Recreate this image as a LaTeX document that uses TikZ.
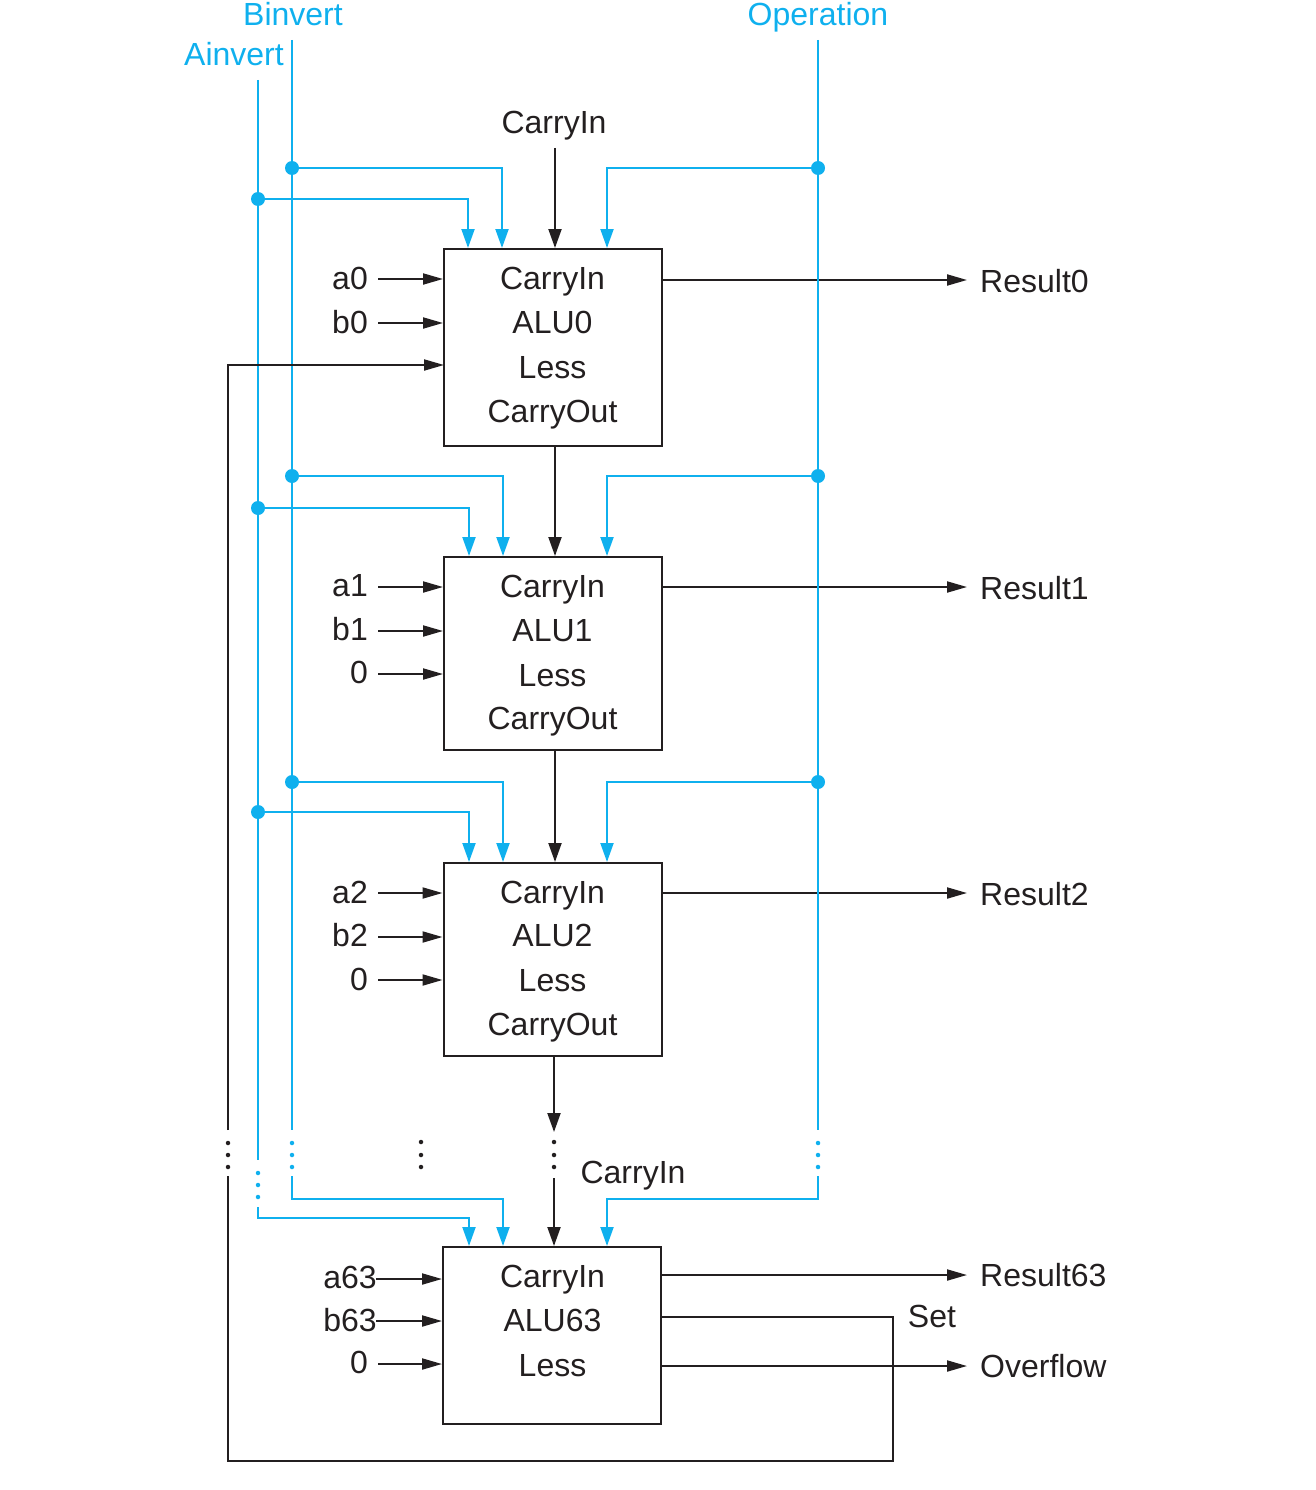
\documentclass[tikz,border=0pt]{standalone}
\usepackage{fontspec}
\setmainfont{Liberation Sans}
\usetikzlibrary{arrows.meta,calc}
\definecolor{ctrlblue}{HTML}{0FB0EE}
\definecolor{inkdark}{HTML}{231F20}
\tikzset{
  x=1pt,y=-1pt,
  wire/.style={inkdark,line width=2pt},
  ctrl/.style={ctrlblue,line width=2pt},
  downtip/.style={-{Triangle[length=19pt,width=13pt]}},
  sidetip/.style={-{Triangle[length=20pt,width=11pt]}},
  txt/.style={inner sep=0pt,text height=23pt,text depth=0pt,font=\fontsize{32}{36}\selectfont,text=inkdark},
  ctrltxt/.style={txt,text=ctrlblue},
  alubox/.style={draw=inkdark,line width=2pt,fill=none,inner sep=0pt,minimum width=218pt},
  junction/.style={circle,fill=ctrlblue,inner sep=0pt,minimum size=14pt},
  dot/.style={circle,fill=#1,inner sep=0pt,minimum size=4.5pt},
}
\begin{document}
\begin{tikzpicture}
\useasboundingbox (0,0) rectangle (1316,1490);

% control signal titles and the top carry input
\node[ctrltxt] (binvert) at (293,14) {Binvert};
\node[ctrltxt] (ainvert) at (234,54) {Ainvert};
\node[ctrltxt] (operation) at (818,14) {Operation};
\node[txt] (carrytop) at (554,122) {CarryIn};
\coordinate (bstart) at (292,40);
\coordinate (astart) at (258,80);
\coordinate (opstart) at (818,40);
\coordinate (cstart) at (555,148);

% ALU blocks
\node[alubox,minimum height=197pt] (alu0) at (553,347.5) {};
\node[alubox,minimum height=193pt] (alu1) at (553,653.5) {};
\node[alubox,minimum height=193pt] (alu2) at (552.5,959.5) {};
\node[alubox,minimum height=177pt] (alu63) at (552,1335.5) {};

% block port labels
\foreach \nm/\y/\txtval in {
  ci0/278/CarryIn, nm0/322/ALU0, ls0/367/Less, co0/411/CarryOut,
  ci1/586/CarryIn, nm1/630/ALU1, ls1/675/Less, co1/718/CarryOut,
  ci2/892/CarryIn, nm2/935/ALU2, ls2/980/Less, co2/1024/CarryOut,
  ci63/1276/CarryIn, nm63/1320/ALU63, ls63/1365/Less}
  \node[txt] (\nm) at (552.5,\y) {\txtval};

% data input labels and arrows
\foreach \nm/\rgt/\ly/\ay/\sx/\blk/\txtval in {
  a0/368/278/279/378/alu0/a0, b0/368/322/323/378/alu0/b0,
  a1/368/585/587/378/alu1/a1, b1/368/629/631/378/alu1/b1, zb/368/672/674/378/alu1/0,
  a2/368/892/893/378/alu2/a2, b2/368/935/937/378/alu2/b2, zc/368/979/980/378/alu2/0,
  a63/377/1277/1279/376/alu63/a63, b63/377/1320/1321/376/alu63/b63, zd/368/1362/1364/378/alu63/0}{
  \node[txt,anchor=east] (\nm) at (\rgt,\ly) {\txtval};
  \coordinate (\nm s) at (\sx,\ay);
  \draw[wire,sidetip] (\nm s) -- (\nm s -| \blk.west);
}

% result outputs
\foreach \nm/\y/\ty/\blk/\txtval in {
  r0/280/281/alu0/Result0, r1/587/588/alu1/Result1, r2/893/894/alu2/Result2,
  r63/1275/1275/alu63/Result63, ovf/1366/1366/alu63/Overflow}{
  \node[txt,anchor=west] (\nm) at (980,\ty) {\txtval};
  \coordinate (\nm e) at (967,\y);
  \draw[wire,sidetip] (\nm e -| \blk.east) -- (\nm e);
}

% Ainvert, Binvert and Operation trunks, broken by the ellipsis
\coordinate (bend) at (292,1130);
\coordinate (aend) at (258,1160);
\coordinate (opend) at (818,1130);
\draw[ctrl] (bstart) -- (bend);
\draw[ctrl] (astart) -- (aend);
\draw[ctrl] (opstart) -- (opend);

% control taps for the first three blocks
\foreach \blk/\by/\ay/\bx/\ax/\tap in {
  alu0/168/199/502/468/0, alu1/476/508/503/469/1, alu2/782/812/503/469/2}{
  \node[junction] (jb\tap) at (292,\by) {};
  \node[junction] (ja\tap) at (258,\ay) {};
  \node[junction] (jo\tap) at (818,\by) {};
  \draw[ctrl,downtip] (jb\tap.center) -| (\bx,0 |- \blk.north);
  \draw[ctrl,downtip] (ja\tap.center) -| (\ax,0 |- \blk.north);
  \draw[ctrl,downtip] (jo\tap.center) -| (607,0 |- \blk.north);
}

% control wires into the last block
\coordinate (bresume) at (292,1176);
\coordinate (aresume) at (258,1207);
\coordinate (opresume) at (818,1176);
\draw[ctrl,downtip] (bresume) |- (503,1199) -- (503,0 |- alu63.north);
\draw[ctrl,downtip] (aresume) |- (469,1218) -- (469,0 |- alu63.north);
\draw[ctrl,downtip] (opresume) |- (607,1199) -- (607,0 |- alu63.north);

% carry chain
\draw[wire,downtip] (cstart) -- (555,0 |- alu0.north);
\draw[wire,downtip] (555,0 |- alu0.south) -- (555,0 |- alu1.north);
\draw[wire,downtip] (555,0 |- alu1.south) -- (555,0 |- alu2.north);
\coordinate (cbreak) at (554,1132);
\coordinate (cresume) at (554,1178);
\draw[wire,downtip] (554,0 |- alu2.south) -- (cbreak);
\draw[wire,downtip] (cresume) -- (554,0 |- alu63.north);
\node[txt] (carrylow) at (633,1172) {CarryIn};

% Set feedback to the Less input of the first block
\node[txt] (setlabel) at (932,1316) {Set};
\coordinate (lessin) at (444,365);
\coordinate (fbbreak) at (228,1130);
\coordinate (fbresume) at (228,1176);
\draw[wire,sidetip] (fbbreak) -- (228,365) -- (lessin);
\draw[wire] (alu63.east |- 0,1317) -- (893,1317) -- (893,1461) -- (228,1461) -- (fbresume);

% ellipsis dots
\foreach \nm/\x/\ya/\yb/\yc/\col in {
  da/228/1143/1155/1167/inkdark, db/292/1143/1155/1167/ctrlblue,
  dc/258/1173/1185/1197/ctrlblue, dd/421/1142/1155/1167/inkdark,
  de/554/1142/1155/1167/inkdark, df/818/1143/1155/1167/ctrlblue}{
  \node[dot=\col] (\nm1) at (\x,\ya) {};
  \node[dot=\col] (\nm2) at (\x,\yb) {};
  \node[dot=\col] (\nm3) at (\x,\yc) {};
}
\end{tikzpicture}
\end{document}
